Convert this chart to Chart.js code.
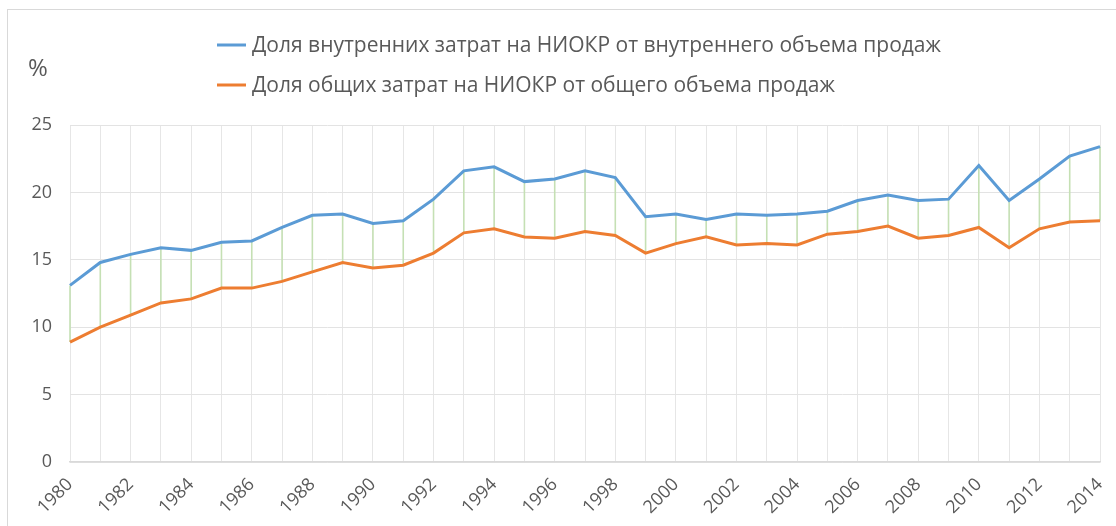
<!DOCTYPE html>
<html>
<head>
<meta charset="utf-8">
<script src="https://cdn.jsdelivr.net/npm/chart.js@4"></script>
<style>
  html, body { margin: 0; padding: 0; background: #fff; }
  #wrap { position: relative; width: 1116px; height: 526px; overflow: hidden; }
  #frame { position: absolute; left: 7px; top: 9px; width: 1200px; height: 600px; border: 1px solid #d9d9d9; }
  canvas { position: absolute; left: 0; top: 0; }
</style>
</head>
<body>
<div id="wrap">
  <div id="frame"></div>
  <canvas id="chart" width="1116" height="526"></canvas>
</div>
<script>
// years on the category axis
var years = ["1980","1981","1982","1983","1984","1985","1986","1987","1988","1989",
             "1990","1991","1992","1993","1994","1995","1996","1997","1998","1999",
             "2000","2001","2002","2003","2004","2005","2006","2007","2008","2009",
             "2010","2011","2012","2013","2014"];

// share of domestic R&D costs in domestic sales, %
var domesticShare = [13.1, 14.8, 15.4, 15.9, 15.7, 16.3, 16.4, 17.4, 18.3, 18.4,
                     17.7, 17.9, 19.5, 21.6, 21.9, 20.8, 21.0, 21.6, 21.1, 18.2,
                     18.4, 18.0, 18.4, 18.3, 18.4, 18.6, 19.4, 19.8, 19.4, 19.5,
                     22.0, 19.4, 21.0, 22.7, 23.4];

// share of total R&D costs in total sales, %
var totalShare = [8.9, 10.0, 10.9, 11.8, 12.1, 12.9, 12.9, 13.4, 14.1, 14.8,
                  14.4, 14.6, 15.5, 17.0, 17.3, 16.7, 16.6, 17.1, 16.8, 15.5,
                  16.2, 16.7, 16.1, 16.2, 16.1, 16.9, 17.1, 17.5, 16.6, 16.8,
                  17.4, 15.9, 17.3, 17.8, 17.9];

var seriesNames = [
  "Доля внутренних затрат на НИОКР от внутреннего объема продаж",
  "Доля общих затрат на НИОКР от общего объема продаж"
];
var yTicks = [0, 5, 10, 15, 20, 25];

var FONT = "'Open Sans', 'Noto Sans', sans-serif";
var TEXT = "#595959";

// green high-low lines between the two series
var hiLowLines = {
  id: "hiLowLines",
  beforeDatasetsDraw: function(chart) {
    var a = chart.getDatasetMeta(0).data;
    var b = chart.getDatasetMeta(1).data;
    var ctx = chart.ctx;
    ctx.save();
    ctx.strokeStyle = "#c5e0b4";
    ctx.lineWidth = 1.6;
    for (var i = 0; i < a.length; i++) {
      ctx.beginPath();
      ctx.moveTo(a[i].x, a[i].y);
      ctx.lineTo(b[i].x, b[i].y);
      ctx.stroke();
    }
    ctx.restore();
  }
};

// left-aligned legend + unit label
var headerText = {
  id: "headerText",
  afterDraw: function(chart) {
    var ctx = chart.ctx;
    ctx.save();
    var rows = [45, 85];
    var colors = ["#5b9bd5", "#ed7d31"];
    ctx.font = "21px " + FONT;
    ctx.textBaseline = "middle";
    ctx.fillStyle = TEXT;
    for (var i = 0; i < rows.length; i++) {
      ctx.strokeStyle = colors[i];
      ctx.lineWidth = 3;
      ctx.beginPath();
      ctx.moveTo(217, rows[i]);
      ctx.lineTo(246, rows[i]);
      ctx.stroke();
      ctx.fillText(seriesNames[i], 252, rows[i] + 1);
    }
    ctx.font = "24px " + FONT;
    ctx.fillText("%", 28, 69);
    ctx.restore();
  }
};

new Chart(document.getElementById("chart"), {
  type: "line",
  data: {
    labels: years,
    datasets: [
      { label: seriesNames[0], data: domesticShare, borderColor: "#5b9bd5", borderWidth: 3,
        pointRadius: 0, tension: 0, fill: false },
      { label: seriesNames[1], data: totalShare, borderColor: "#ed7d31", borderWidth: 3,
        pointRadius: 0, tension: 0, fill: false }
    ]
  },
  options: {
    responsive: false,
    animation: false,
    layout: { padding: { top: 125, left: 0, right: 16, bottom: 0 } },
    plugins: { legend: { display: false }, tooltip: { enabled: false } },
    scales: {
      x: {
        offset: false,
        grid: { color: "#e6e6e6", lineWidth: 1, drawTicks: false },
        border: { color: "#d9d9d9", width: 1.5 },
        ticks: {
          autoSkip: false,
          minRotation: 45, maxRotation: 45,
          padding: 12,
          color: TEXT,
          font: { family: FONT, size: 18 },
          callback: function(v, i) { return i % 2 === 0 ? years[i] : ""; }
        },
        afterFit: function(s) { s.height = 64; s.paddingLeft = 0; s.paddingRight = 0; }
      },
      y: {
        min: 0, max: 25,
        afterBuildTicks: function(s) { s.ticks = yTicks.map(function(v) { return { value: v }; }); },
        grid: { color: "#e3e3e3", lineWidth: 1, drawTicks: false },
        border: { display: false },
        ticks: { padding: 18, color: TEXT, font: { family: FONT, size: 18 } },
        afterFit: function(s) { s.width = 70; }
      }
    }
  },
  plugins: [hiLowLines, headerText]
});
</script>
</body>
</html>
